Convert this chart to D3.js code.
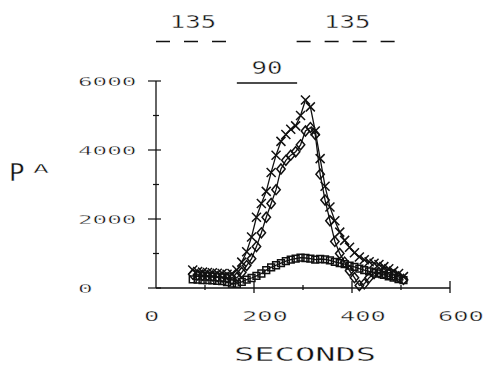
<!DOCTYPE html>
<html>
<head>
<meta charset="utf-8">
<script src="https://cdn.jsdelivr.net/npm/d3@7"></script>
<style>
  body { margin: 0; background: #fff; }
  text { font-family: "DejaVu Sans Mono", monospace; fill: #111; stroke: #fff; stroke-width: 0.35px; paint-order: fill; }
</style>
</head>
<body>
<div id="chart"></div>
<script>
// sample times (s)
var seconds = [75, 85, 95, 105, 115, 125, 135, 145, 155, 165, 175, 185, 195, 205, 215, 225, 235, 245, 255, 265, 275, 285,
  295, 305, 315, 325, 335, 345, 355, 365, 375, 385, 395, 405, 415, 425, 435, 445, 455, 465, 475, 485, 495, 505];

// current (pA), one array per trace
var crosses = [520, 480, 460, 450, 440, 430, 420, 400, 420, 520, 750, 1050, 1480, 2050, 2450, 2800, 3350, 3850, 4250, 4450, 4600, 4700,
  5000, 5450, 5250, 4550, 3750, 2950, 2350, 1950, 1620, 1380, 1180, 1020, 900, 820, 760, 720, 680, 620, 560, 490, 420, 330];
var diamonds = [400, 380, 370, 360, 350, 330, 320, 300, 250, 300, 450, 650, 850, 1200, 1600, 2050, 2450, 2850, 3450, 3700, 3850, 3950,
  4150, 4550, 4650, 4450, 3300, 2550, 1950, 1350, 1000, 750, 500, 300, 70, 120, 300, 420, 450, 430, 400, 370, 320, 250];
var squares = [250, 240, 230, 230, 220, 210, 200, 170, 130, 120, 180, 240, 290, 350, 420, 520, 600, 660, 720, 780, 820, 850,
  880, 870, 850, 820, 840, 830, 800, 760, 720, 690, 650, 610, 560, 520, 480, 450, 420, 380, 340, 300, 260, 230];

// stimulus periods shown above the plot
var periodLabels = ["135", "90", "135"];
var periodStart = [0, 165, 287];
var periodEnd = [151, 288, 494];
var periodDashed = [true, false, true];

var xTicks = [0, 200, 400, 600];
var yTicks = [0, 2000, 4000, 6000];

var width = 483, height = 366;

var svg = d3.select('#chart').append('svg')
  .attr('width', width)
  .attr('height', height);

var x = d3.scaleLinear().domain([0, 600]).range([156, 450]);
var y = d3.scaleLinear().domain([0, 6000]).range([288, 81]);

var ink = '#111';

// wide plotter-style lettering: glyphs stretched to a fixed pitch
function plotText(px, py, str, size, pitch, anchor) {
  return svg.append('text')
    .attr('x', px).attr('y', py)
    .attr('font-size', size)
    .attr('text-anchor', anchor || 'start')
    .attr('textLength', str.length * pitch)
    .attr('lengthAdjust', 'spacingAndGlyphs')
    .text(str);
}

// axes drawn by hand in plotter style
svg.append('line')
  .attr('x1', x(0)).attr('x2', x(600)).attr('y1', y(0)).attr('y2', y(0))
  .attr('stroke', ink).attr('stroke-width', 1.4);
svg.append('line')
  .attr('x1', x(0)).attr('x2', x(0)).attr('y1', y(0)).attr('y2', y(6000))
  .attr('stroke', ink).attr('stroke-width', 1.3);

d3.range(0, 6001, 1000).forEach(function(v) {
  var major = v % 2000 === 0;
  svg.append('line')
    .attr('x1', x(0) - (major ? 8 : 3)).attr('x2', x(0) + (major ? 5 : 3))
    .attr('y1', y(v)).attr('y2', y(v))
    .attr('stroke', ink).attr('stroke-width', 1.2);
});

d3.range(100, 601, 100).forEach(function(v) {
  var major = v % 200 === 0;
  svg.append('line')
    .attr('x1', x(v)).attr('x2', x(v))
    .attr('y1', y(0) - (major ? 7 : 3)).attr('y2', y(0) + (major ? 5 : 2))
    .attr('stroke', ink).attr('stroke-width', 1.3);
});

yTicks.forEach(function(d) {
  plotText(78, y(d) + 5, String(d), 13, 14.6);
});

xTicks.forEach(function(d) {
  plotText(x(d) - 12, 321, String(d), 14.6, 15.3);
});

plotText(234, 361, 'SECONDS', 20, 20.3);

plotText(9, 181, 'P', 24.5, 15.5);
plotText(33, 173, 'A', 12.5, 16);

// stimulus bars
periodLabels.forEach(function(lab, i) {
  var yy = periodDashed[i] ? 41.5 : 83;
  svg.append('line')
    .attr('x1', x(periodStart[i])).attr('x2', x(periodEnd[i]))
    .attr('y1', yy).attr('y2', yy)
    .attr('stroke', ink).attr('stroke-width', 1.5)
    .attr('stroke-dasharray', periodDashed[i] ? '14,14' : null);
  plotText(x((periodStart[i] + periodEnd[i]) / 2), periodDashed[i] ? 27.5 : 74, lab, 17, 15.5, 'middle');
});

// traces
var line = d3.line()
  .x(function(d) { return x(d[0]); })
  .y(function(d) { return y(d[1]); });

function pairs(vals) {
  return seconds.map(function(s, i) { return [s, vals[i]]; });
}

var markers = {
  cross: function(cx, cy) {
    var r = 4.5;
    return 'M' + (cx - r) + ',' + (cy - r) + 'L' + (cx + r) + ',' + (cy + r) +
      'M' + (cx - r) + ',' + (cy + r) + 'L' + (cx + r) + ',' + (cy - r);
  },
  diamond: function(cx, cy) {
    return 'M' + cx + ',' + (cy - 5) + 'L' + (cx + 4.2) + ',' + cy + 'L' + cx + ',' + (cy + 5) +
      'L' + (cx - 4.2) + ',' + cy + 'Z';
  },
  square: function(cx, cy) {
    var r = 3.4;
    return 'M' + (cx - r) + ',' + (cy - r) + 'h' + 2 * r + 'v' + 2 * r + 'h' + (-2 * r) + 'Z';
  }
};

[[squares, 'square'], [diamonds, 'diamond'], [crosses, 'cross']].forEach(function(s) {
  var data = pairs(s[0]);
  svg.append('path')
    .datum(data)
    .attr('d', line)
    .attr('fill', 'none')
    .attr('stroke', ink)
    .attr('stroke-width', 1.3);
  svg.selectAll('.m-' + s[1])
    .data(data)
    .enter().append('path')
    .attr('class', 'm-' + s[1])
    .attr('d', function(d) { return markers[s[1]](x(d[0]), y(d[1])); })
    .attr('fill', 'none')
    .attr('stroke', ink)
    .attr('stroke-width', 1.5);
});
</script>
</body>
</html>
